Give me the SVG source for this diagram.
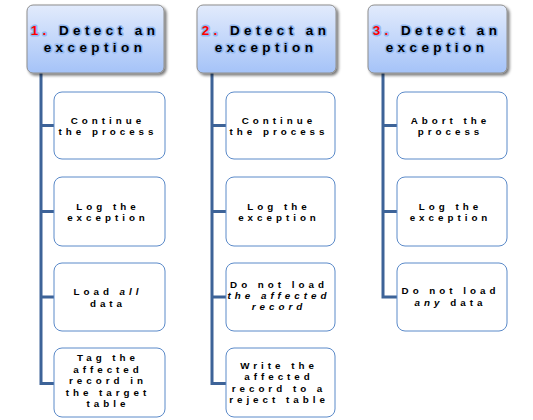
<svg xmlns="http://www.w3.org/2000/svg" width="533" height="420" viewBox="0 0 533 420">
<defs>
<linearGradient id="hg" x1="0" y1="0" x2="0" y2="1">
<stop offset="0" stop-color="#e2ebfc"/>
<stop offset="1" stop-color="#a5c3f8"/>
</linearGradient>
<filter id="sh" x="-10%" y="-10%" width="125%" height="130%">
<feGaussianBlur in="SourceAlpha" stdDeviation="1.5"/>
<feOffset dx="2" dy="2" result="b"/>
<feComponentTransfer><feFuncA type="linear" slope="0.55"/></feComponentTransfer>
<feMerge><feMergeNode/><feMergeNode in="SourceGraphic"/></feMerge>
</filter>
</defs>
<style>
.hdr{fill:url(#hg);stroke:#8e8e8e;stroke-width:1;filter:url(#sh)}
.ht{font-family:"Liberation Sans",Arial,sans-serif;font-weight:bold;font-size:13.5px;letter-spacing:4.4px;fill:#000;stroke:#94b9f2;stroke-width:3px;paint-order:stroke;stroke-linejoin:round;text-anchor:middle}
.num{fill:#ff0000}
.box{fill:#fff;stroke:#5b8ac9;stroke-width:1}
.bt{font-family:"Liberation Sans",Arial,sans-serif;font-weight:bold;font-size:9.8px;letter-spacing:4px;fill:#000;text-anchor:middle}
.it{font-style:italic}
.ln{fill:none;stroke:#3d6398;stroke-width:3}
</style>
<rect width="533" height="420" fill="#fff"/>
<g id="connectors">
<path class="ln" d="M41,73 V383.5 H54 M41,125.5 H54 M41,211.5 H54 M41,297 H54"/>
<path class="ln" d="M212,73 V383.5 H226 M212,125.5 H226 M212,211.5 H226 M212,297 H226"/>
<path class="ln" d="M383,73 V297 H397 M383,125.5 H397 M383,211.5 H397"/>
</g>
<g id="h1">
<rect class="hdr" x="27" y="5" width="137" height="68" rx="6"/>
<text class="ht" x="95" y="35"><tspan class="num">1.</tspan> Detect an</text>
<text class="ht" x="95" y="52">exception</text>
</g>
<g id="h2">
<rect class="hdr" x="197" y="5" width="139" height="68" rx="6"/>
<text class="ht" x="266" y="35"><tspan class="num">2.</tspan> Detect an</text>
<text class="ht" x="266" y="52">exception</text>
</g>
<g id="h3">
<rect class="hdr" x="368" y="5" width="139" height="68" rx="6"/>
<text class="ht" x="437" y="35"><tspan class="num">3.</tspan> Detect an</text>
<text class="ht" x="437" y="52">exception</text>
</g>
<g id="c1b1">
<rect class="box" x="54" y="92" width="111" height="67" rx="8"/>
<text class="bt" x="108" y="123.5">Continue</text>
<text class="bt" x="108" y="135">the process</text>
</g>
<g id="c1b2">
<rect class="box" x="54" y="177" width="111" height="69" rx="8"/>
<text class="bt" x="108" y="209.5">Log the</text>
<text class="bt" x="108" y="221">exception</text>
</g>
<g id="c1b3">
<rect class="box" x="54" y="263" width="111" height="68" rx="8"/>
<text class="bt" x="108" y="295">Load <tspan class="it">all</tspan></text>
<text class="bt" x="108" y="306.5">data</text>
</g>
<g id="c1b4">
<rect class="box" x="54" y="348" width="111" height="69" rx="8"/>
<text class="bt" x="108" y="361">Tag the</text>
<text class="bt" x="108" y="372.5">affected</text>
<text class="bt" x="108" y="384">record in</text>
<text class="bt" x="108" y="395.5">the target</text>
<text class="bt" x="108" y="407">table</text>
</g>
<g id="c2b1">
<rect class="box" x="226" y="92" width="109" height="67" rx="8"/>
<text class="bt" x="279" y="123.5">Continue</text>
<text class="bt" x="279" y="135">the process</text>
</g>
<g id="c2b2">
<rect class="box" x="226" y="177" width="109" height="69" rx="8"/>
<text class="bt" x="279" y="209.5">Log the</text>
<text class="bt" x="279" y="221">exception</text>
</g>
<g id="c2b3">
<rect class="box" x="226" y="263" width="109" height="68" rx="8"/>
<text class="bt" x="279" y="288">Do not load</text>
<text class="bt it" x="279" y="299">the affected</text>
<text class="bt it" x="279" y="310">record</text>
</g>
<g id="c2b4">
<rect class="box" x="226" y="348" width="109" height="69" rx="8"/>
<text class="bt" x="279" y="368.5">Write the</text>
<text class="bt" x="279" y="380">affected</text>
<text class="bt" x="279" y="391.5">record to a</text>
<text class="bt" x="279" y="403">reject table</text>
</g>
<g id="c3b1">
<rect class="box" x="397" y="92" width="110" height="67" rx="8"/>
<text class="bt" x="450.5" y="123.5">Abort the</text>
<text class="bt" x="450.5" y="135">process</text>
</g>
<g id="c3b2">
<rect class="box" x="397" y="177" width="110" height="69" rx="8"/>
<text class="bt" x="450.5" y="209.5">Log the</text>
<text class="bt" x="450.5" y="221">exception</text>
</g>
<g id="c3b3">
<rect class="box" x="397" y="263" width="110" height="68" rx="8"/>
<text class="bt" x="450.5" y="294">Do not load</text>
<text class="bt" x="450.5" y="306"><tspan class="it">any</tspan> data</text>
</g>
</svg>
